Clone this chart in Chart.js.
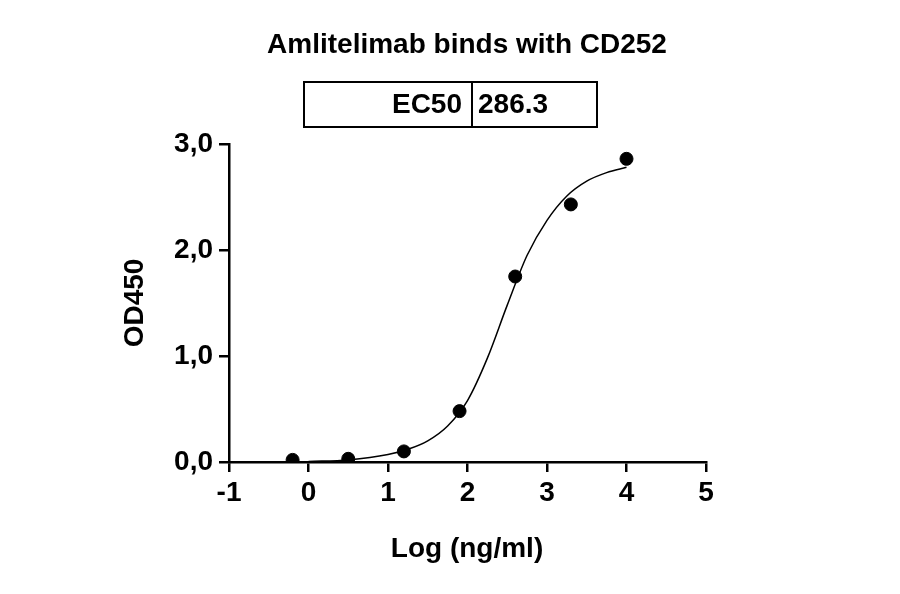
<!DOCTYPE html>
<html>
<head>
<meta charset="utf-8">
<script src="https://cdn.jsdelivr.net/npm/chart.js@4/dist/chart.umd.min.js"></script>
<style>
  html, body { margin: 0; padding: 0; background: #fff; }
  #wrap { width: 900px; height: 594px; }
</style>
</head>
<body>
<div id="wrap"><canvas id="chart" width="900" height="594"></canvas></div>
<script>
// measured points (log concentration, OD450)
const logConc = [-0.2, 0.5, 1.2, 1.9, 2.6, 3.3, 4.0];
const od450 = [0.02, 0.03, 0.10, 0.48, 1.75, 2.43, 2.86];

// fitted curve
const curveX = [0.0, 0.5, 1.0, 1.25, 1.5, 1.75, 2.0, 2.25, 2.5, 2.75, 3.0, 3.25, 3.5, 3.75, 4.0];
const curveY = [0.005, 0.02, 0.07, 0.12, 0.2, 0.34, 0.58, 0.98, 1.48, 1.95, 2.28, 2.51, 2.65, 2.73, 2.78];

const ec50Label = 'EC50';
const ec50Value = '286.3';
const titleText = 'Amlitelimab binds with CD252';

const FONT = '"Liberation Sans", Arial, sans-serif';

const headerPlugin = {
    id: 'header',
    afterDraw(chart) {
        const ctx = chart.ctx;
        ctx.save();
        ctx.fillStyle = '#000';
        ctx.font = 'bold 28px ' + FONT;
        ctx.textAlign = 'center';
        ctx.textBaseline = 'middle';
        ctx.fillText(titleText, 467, 45);

        // EC50 table
        ctx.strokeStyle = '#000';
        ctx.lineWidth = 2;
        ctx.strokeRect(304, 82, 293, 45);
        ctx.beginPath();
        ctx.moveTo(472, 82);
        ctx.lineTo(472, 127);
        ctx.stroke();
        ctx.font = 'bold 28px ' + FONT;
        ctx.textAlign = 'right';
        ctx.fillText(ec50Label, 462, 105);
        ctx.textAlign = 'left';
        ctx.fillText(ec50Value, 478, 105);

        // axis titles
        ctx.textAlign = 'center';
        ctx.fillText('Log (ng/ml)', 467, 549);
        ctx.translate(135, 303);
        ctx.rotate(-Math.PI / 2);
        ctx.fillText('OD450', 0, 0);
        ctx.restore();
    }
};

const tickFont = { family: FONT, size: 28, weight: 'bold' };

new Chart(document.getElementById('chart'), {
    type: 'scatter',
    data: {
        datasets: [{
            label: 'fit',
            type: 'line',
            data: curveX.map((x, i) => ({ x: x, y: curveY[i] })),
            borderColor: '#000',
            borderWidth: 1.5,
            pointRadius: 0,
            cubicInterpolationMode: 'monotone',
            fill: false
        }, {
            label: 'data',
            data: logConc.map((x, i) => ({ x: x, y: od450[i] })),
            backgroundColor: '#000',
            borderColor: '#000',
            pointRadius: 6.5
        }]
    },
    options: {
        responsive: false,
        animation: false,
        layout: { padding: { top: 144, right: 194, left: 0, bottom: 0 } },
        plugins: { legend: { display: false }, tooltip: { enabled: false } },
        scales: {
            x: {
                type: 'linear',
                min: -1, max: 5,
                afterFit(scale) { scale.height = 132; },
                border: { color: '#000', width: 2.5 },
                grid: { drawOnChartArea: false, drawTicks: true, tickLength: 10, color: '#000', lineWidth: 2.5 },
                ticks: { stepSize: 1, color: '#000', font: tickFont, padding: 4 }
            },
            y: {
                min: 0, max: 3,
                afterFit(scale) { scale.width = 229; },
                border: { color: '#000', width: 2.5 },
                grid: { drawOnChartArea: false, drawTicks: true, tickLength: 10, color: '#000', lineWidth: 2.5 },
                ticks: {
                    stepSize: 1, color: '#000', padding: 6, font: tickFont,
                    callback: v => v.toFixed(1).replace('.', ',')
                }
            }
        }
    },
    plugins: [headerPlugin]
});
</script>
</body>
</html>
